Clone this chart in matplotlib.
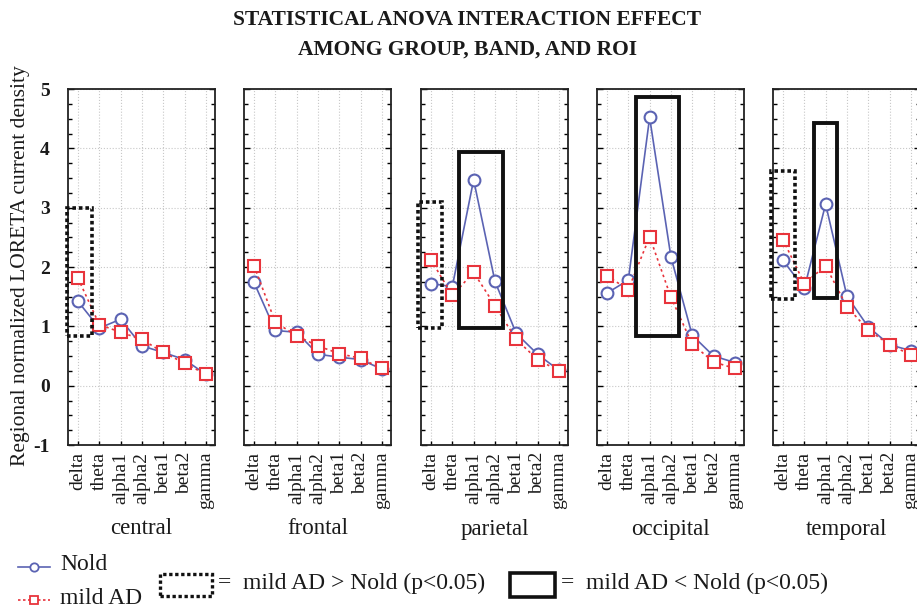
import matplotlib
matplotlib.use("Agg")
import matplotlib.pyplot as plt
from matplotlib.patches import Rectangle
from matplotlib.lines import Line2D
from matplotlib.ticker import MultipleLocator

plt.rcParams['font.family'] = ['Liberation Serif', 'DejaVu Serif']

bands = ["delta", "theta", "alpha1", "alpha2", "beta1", "beta2", "gamma"]
rois = ["central", "frontal", "parietal", "occipital", "temporal"]

nold = {
    "central":   [1.42, 0.97, 1.12, 0.67, 0.56, 0.44, 0.19],
    "frontal":   [1.74, 0.93, 0.90, 0.53, 0.48, 0.44, 0.28],
    "parietal":  [1.72, 1.67, 3.47, 1.76, 0.88, 0.53, 0.26],
    "occipital": [1.56, 1.78, 4.52, 2.17, 0.85, 0.50, 0.39],
    "temporal":  [2.11, 1.64, 3.06, 1.51, 0.99, 0.69, 0.59],
}
mild_ad = {
    "central":   [1.81, 1.03, 0.90, 0.78, 0.56, 0.38, 0.19],
    "frontal":   [2.02, 1.07, 0.84, 0.67, 0.54, 0.46, 0.29],
    "parietal":  [2.12, 1.52, 1.91, 1.35, 0.78, 0.44, 0.25],
    "occipital": [1.85, 1.62, 2.51, 1.49, 0.70, 0.40, 0.29],
    "temporal":  [2.46, 1.72, 2.02, 1.33, 0.94, 0.69, 0.52],
}
# significance boxes: (x0, x1, y0, y1)
dotted_boxes = {
    "central":  [(-0.50, 0.66, 0.83, 2.99)],
    "parietal": [(-0.60, 0.52, 0.97, 3.10)],
    "temporal": [(-0.55, 0.55, 1.46, 3.62)],
}
solid_boxes = {
    "parietal":  [(1.32, 3.40, 0.98, 3.93)],
    "occipital": [(1.37, 3.40, 0.83, 4.86)],
    "temporal":  [(1.46, 2.55, 1.47, 4.42)],
}

W, H = 917, 608
fig = plt.figure(figsize=(W / 100, H / 100), dpi=100)

blue = "#5b63b3"
red = "#e8343c"
txt = "#1a1a1a"
lefts = [68, 244, 421, 597, 773]
top, bottom, width = 89, 445, 147

for i, roi in enumerate(rois):
    ax = fig.add_axes([lefts[i] / W, 1 - bottom / H, width / W, (bottom - top) / H])
    x = list(range(len(bands)))
    ax.plot(x, nold[roi], color=blue, lw=1.2, marker="o", ms=8.5, mfc="white",
            mec=blue, mew=1.5, zorder=3)
    ax.plot(x, mild_ad[roi], color=red, lw=1.2, ls=(0, (1.5, 2)), marker="s",
            ms=8.5, mfc="white", mec=red, mew=1.5, zorder=4)
    for (x0, x1, y0, y1) in dotted_boxes.get(roi, []):
        ax.add_patch(Rectangle((x0, y0), x1 - x0, y1 - y0, fill=False, ec="#111111",
                               lw=2.6, ls=(0, (1, 0.8)), clip_on=False, zorder=5))
    for (x0, x1, y0, y1) in solid_boxes.get(roi, []):
        ax.add_patch(Rectangle((x0, y0), x1 - x0, y1 - y0, fill=False, ec="#111111",
                               lw=2.8, clip_on=False, zorder=5))
    ax.set_xlim(-0.47, 6.43)
    ax.set_ylim(-1, 5)
    ax.set_xticks(x)
    ax.set_xticklabels(bands, rotation=90, fontsize=14, color=txt)
    ax.yaxis.set_major_locator(MultipleLocator(1))
    ax.yaxis.set_minor_locator(MultipleLocator(0.25))
    ax.tick_params(axis="both", which="both", direction="in", length=3, width=1,
                   right=True, top=False)
    ax.tick_params(axis="y", which="major", length=4)
    ax.tick_params(axis="x", pad=5)
    ax.grid(True, which="major", color="#c8c8c8", ls=":", lw=0.8)
    ax.set_axisbelow(True)
    for s in ax.spines.values():
        s.set_linewidth(1.3)
        s.set_color("#222222")
    if i == 0:
        ax.set_yticks(range(-1, 6))
        ax.set_yticklabels([str(v) for v in range(-1, 6)], fontsize=14,
                           fontweight="bold", color=txt)
        ax.tick_params(axis="y", which="major", pad=13)
    else:
        ax.set_yticklabels([])
    fig.text((lefts[i] + width / 2) / W, 1 - 529 / H, roi, ha="center",
             va="center", fontsize=16.5, color=txt)

fig.text(21 / W, 1 - 266 / H, "Regional normalized LORETA current density",
         rotation=90, ha="center", va="center", fontsize=15.5, color=txt)
fig.text(467 / W, 1 - 20 / H, "STATISTICAL ANOVA INTERACTION EFFECT",
         ha="center", va="center", fontsize=15.5, fontweight="bold", color=txt)
fig.text(467 / W, 1 - 50 / H, "AMONG GROUP, BAND, AND ROI",
         ha="center", va="center", fontsize=15.5, fontweight="bold", color=txt)

# legend
fig.add_artist(Line2D([18 / W, 50 / W], [1 - 567 / H] * 2, color=blue, lw=1.2))
fig.add_artist(Line2D([34 / W], [1 - 567 / H], color=blue, marker="o", ms=6,
                      mfc="white", mec=blue, mew=1.3))
fig.text(60 / W, 1 - 565 / H, "Nold", ha="left", va="center", fontsize=17,
         color=txt)
fig.add_artist(Line2D([18 / W, 50 / W], [1 - 600 / H] * 2, color=red, lw=1.2,
                      ls=(0, (1.5, 1.5))))
fig.add_artist(Line2D([34 / W], [1 - 600 / H], color=red, marker="s", ms=6,
                      mfc="white", mec=red, mew=1.3))
fig.text(60 / W, 1 - 598 / H, "mild AD", ha="left", va="center", fontsize=17,
         color=txt)

fig.add_artist(Rectangle((160 / W, 1 - 596 / H), 52 / W, 22 / H, fill=False,
                         ec="#111111", lw=2.4, ls=(0, (1, 0.8)),
                         transform=fig.transFigure))
fig.text(218 / W, 1 - 583 / H, "=  mild AD > Nold (p<0.05)", ha="left",
         va="center", fontsize=17, color=txt)
fig.add_artist(Rectangle((510 / W, 1 - 597 / H), 45 / W, 24 / H, fill=False,
                         ec="#111111", lw=2.6, transform=fig.transFigure))
fig.text(561 / W, 1 - 583 / H, "=  mild AD < Nold (p<0.05)", ha="left",
         va="center", fontsize=17, color=txt)

fig.savefig("out.png", dpi=100)
